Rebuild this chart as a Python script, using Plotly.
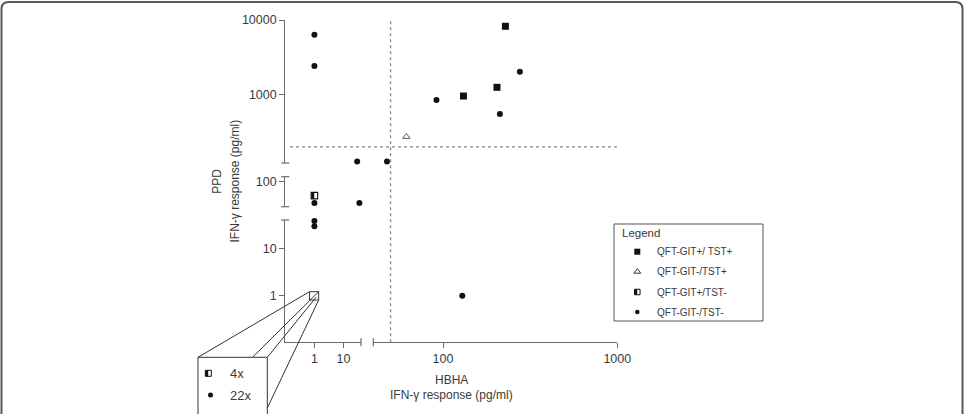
import math
import plotly.graph_objects as go

W, H = 965, 414

# ---------------- data ----------------
categories = ["QFT-GIT+/ TST+", "QFT-GIT-/TST+", "QFT-GIT+/TST-", "QFT-GIT-/TST-"]
# QFT-GIT+/TST+ (filled squares)
sq_x = [131, 204, 228]
sq_y = [960, 1256, 8240]
# QFT-GIT-/TST+ (open triangle)
tri_x = [61.6]
tri_y = [274]
# QFT-GIT+/TST- (half-filled square)
half_x = [1]
half_y = [65]
# QFT-GIT-/TST- (dots)
dot_x = [1, 1, 29.4, 47.7, 91.7, 212, 276, 1, 35, 1, 1, 129]
dot_y = [6350, 2420, 128, 128, 849, 552, 2030, 52, 52, 39, 30, 1]
# points stacked at (1, 1), listed in the zoom inset
stack_x, stack_y = 1, 1
stack_counts = ["4x", "22x"]
hbha_cutoff = 50
ppd_cutoff = 200
x_ticks = [1, 10, 100, 1000]
y_ticks = [1, 10, 100, 1000, 10000]

# ---------------- layout constants (pixels) ----------------
FONT = "Liberation Sans, Arial, sans-serif"
AX = "#6a6a6a"
TXT = "#3a3a3a"
X_SEGS = [("x", (285.3, 361.0), (-1.0, 1.6)), ("x2", (373.3, 617.3), (1.6, 3.0))]
Y_SEGS = [("y", (20.0, 163.0), (2.086, 4.0)),
          ("y2", (176.7, 206.7), (1.665, 2.067)),
          ("y3", (220.0, 342.3), (-0.99, 1.61))]


def pxx(p):
    return p / W


def pxy(p):
    return 1 - p / H


def xseg_of(v):
    lv = math.log10(v)
    for name, _, (r0, r1) in X_SEGS:
        if r0 <= lv <= r1:
            return name
    return X_SEGS[-1][0]


def yseg_of(v):
    lv = math.log10(v)
    for name, _, (r0, r1) in Y_SEGS:
        if r0 <= lv <= r1:
            return name
    return Y_SEGS[-1][0]


def seg(segs, name):
    for n, p, r in segs:
        if n == name:
            return p, r


def data_to_px_x(v, name):
    (p0, p1), (r0, r1) = seg(X_SEGS, name)
    return p0 + (math.log10(v) - r0) / (r1 - r0) * (p1 - p0)


def data_to_px_y(v, name):
    (p0, p1), (r0, r1) = seg(Y_SEGS, name)
    return p1 - (math.log10(v) - r0) / (r1 - r0) * (p1 - p0)


fig = go.Figure()


def add_points(xs, ys, marker, xshift_px=0.0):
    groups = {}
    for xv, yv in zip(xs, ys):
        key = (xseg_of(xv), yseg_of(yv))
        groups.setdefault(key, ([], []))
        (p0, p1), (r0, r1) = seg(X_SEGS, key[0])
        ppd = (p1 - p0) / (r1 - r0)
        groups[key][0].append(xv * 10 ** (xshift_px / ppd))
        groups[key][1].append(yv)
    for (xa, ya), (gx, gy) in groups.items():
        fig.add_trace(go.Scatter(x=gx, y=gy, xaxis=xa, yaxis=ya, mode="markers",
                                 marker=marker, showlegend=False, cliponaxis=False,
                                 hoverinfo="skip"))


M_SQ = dict(symbol="square", size=7, color="#111")
M_TRI = dict(symbol="triangle-up-open", size=6.5, color="#555", line=dict(width=1, color="#555"))
M_HALF_O = dict(symbol="square-open", size=6.5, color="#111", line=dict(width=1.1, color="#111"))
M_HALF_F = dict(symbol="line-ns", size=4.6, color="#111", line=dict(width=3.0, color="#111"))
M_DOT = dict(symbol="circle", size=6, color="#111")

add_points(sq_x, sq_y, M_SQ)
add_points(tri_x, tri_y, M_TRI)
add_points(half_x, half_y, M_HALF_O)
add_points(half_x, half_y, M_HALF_F, xshift_px=-1.7)
add_points(dot_x, dot_y, M_DOT)

# ---------------- axes ----------------
TICKFONT = dict(family=FONT, size=12.5, color=TXT)
layout_axes = {}
for name, (p0, p1), (r0, r1) in X_SEGS:
    tv = [t for t in x_ticks if r0 - 1e-6 <= math.log10(t) <= r1 + 1e-6]
    layout_axes["xaxis" if name == "x" else "xaxis" + name[1:]] = dict(
        type="log", domain=[pxx(p0), pxx(p1)], range=[r0, r1], anchor="y3",
        showline=True, linecolor=AX, linewidth=1.2, ticks="outside", ticklen=5,
        tickwidth=1.1, tickcolor=AX, tickvals=tv, ticktext=[str(t) for t in tv],
        showgrid=False, zeroline=False, fixedrange=True, automargin=False,
        tickfont=TICKFONT)
for name, (p0, p1), (r0, r1) in Y_SEGS:
    tv = [t for t in y_ticks if r0 - 1e-6 <= math.log10(t) <= r1 + 1e-6]
    layout_axes["yaxis" if name == "y" else "yaxis" + name[1:]] = dict(
        type="log", domain=[pxy(p1), pxy(p0)], range=[r0, r1], anchor="x",
        showline=True, linecolor=AX, linewidth=1.2, ticks="outside", ticklen=5,
        tickwidth=1.1, tickcolor=AX, tickvals=tv, ticktext=[str(t) for t in tv],
        showgrid=False, zeroline=False, fixedrange=True, automargin=False,
        tickfont=TICKFONT)
# auxiliary pixel axes for legend / inset glyphs
layout_axes["xaxis3"] = dict(domain=[0, 1], range=[0, W], visible=False, anchor="y4",
                             fixedrange=True, automargin=False)
layout_axes["yaxis4"] = dict(domain=[0, 1], range=[H, 0], visible=False, anchor="x3",
                             fixedrange=True, automargin=False)

shapes = []
annotations = []

# break caps
X_AX_PX = seg(Y_SEGS, "y3")[0][1]
Y_AX_PX = seg(X_SEGS, "x")[0][0]
for py_ in [seg(Y_SEGS, "y")[0][1], seg(Y_SEGS, "y2")[0][0], seg(Y_SEGS, "y2")[0][1], seg(Y_SEGS, "y3")[0][0]]:
    shapes.append(dict(type="line", xref="paper", yref="paper", x0=pxx(Y_AX_PX - 4), x1=pxx(Y_AX_PX + 4),
                       y0=pxy(py_), y1=pxy(py_), line=dict(color=AX, width=1.2)))
for px_ in [seg(X_SEGS, "x")[0][1], seg(X_SEGS, "x2")[0][0]]:
    shapes.append(dict(type="line", xref="paper", yref="paper", x0=pxx(px_), x1=pxx(px_),
                       y0=pxy(X_AX_PX - 4), y1=pxy(X_AX_PX + 4), line=dict(color=AX, width=1.2)))

# cutoff lines
shapes.append(dict(type="line", xref=xseg_of(hbha_cutoff), yref="paper", x0=hbha_cutoff, x1=hbha_cutoff,
                   y0=pxy(X_AX_PX), y1=pxy(seg(Y_SEGS, "y")[0][0]), line=dict(color="#888", width=1.3, dash="dot")))
shapes.append(dict(type="line", xref="paper", yref=yseg_of(ppd_cutoff), x0=pxx(290), x1=pxx(618.3),
                   y0=ppd_cutoff, y1=ppd_cutoff, line=dict(color="#888", width=1.3, dash="dot")))

# zoom box around stacked points
zx0, zx1 = stack_x * 0.68, stack_x * 1.4
zy0, zy1 = stack_y * 0.81, stack_y * 1.22
xa, ya = xseg_of(stack_x), yseg_of(stack_y)
shapes.append(dict(type="rect", xref=xa, yref=ya, x0=zx0, x1=zx1, y0=zy0, y1=zy1,
                   line=dict(color="#333", width=1), fillcolor="white", layer="above"))
TL = (data_to_px_x(zx0, xa), data_to_px_y(zy1, ya))
TR = (data_to_px_x(zx1, xa), data_to_px_y(zy1, ya))
BR = (data_to_px_x(zx1, xa), data_to_px_y(zy0, ya))
INS = (198.0, 357.3, 267.3, 430.0)
for (a, b) in [(TL, (INS[0], INS[1])), (TR, (252.5, INS[1])),
               ((TR[0] - 2.5, TR[1] + 5.5), (INS[2], INS[1])), (BR, (INS[2], 408.0))]:
    shapes.append(dict(type="line", xref="paper", yref="paper", x0=pxx(a[0]), y0=pxy(a[1]),
                       x1=pxx(b[0]), y1=pxy(b[1]), line=dict(color="#333", width=1), layer="above"))
shapes.append(dict(type="rect", xref="paper", yref="paper", x0=pxx(INS[0]), x1=pxx(INS[2]),
                   y0=pxy(INS[3]), y1=pxy(INS[1]), line=dict(color="#333", width=1), fillcolor="white",
                   layer="below"))

# legend box
LEG = (614.0, 224.0, 763.0, 321.0)
shapes.append(dict(type="rect", xref="paper", yref="paper", x0=pxx(LEG[0]), x1=pxx(LEG[2]),
                   y0=pxy(LEG[3]), y1=pxy(LEG[1]), line=dict(color="#555", width=1), fillcolor="white",
                   layer="below"))
annotations.append(dict(text="Legend", xref="paper", yref="paper", x=pxx(620), y=pxy(233.3),
                        xanchor="left", yanchor="middle", showarrow=False,
                        font=dict(family=FONT, size=11.5, color=TXT)))
leg_rows = [251.7, 271.7, 292.0, 312.0]
GX = 637.3
for cat, yy in zip(categories, leg_rows):
    annotations.append(dict(text=cat, xref="paper", yref="paper", x=pxx(655), y=pxy(yy),
                            xanchor="left", yanchor="middle", showarrow=False,
                            font=dict(family=FONT, size=10, color=TXT)))


def glyph(x, y, marker):
    fig.add_trace(go.Scatter(x=[x], y=[y], xaxis="x3", yaxis="y4", mode="markers", marker=marker,
                             showlegend=False, hoverinfo="skip", cliponaxis=False))


glyph(GX, leg_rows[0], dict(symbol="square", size=6, color="#111"))
glyph(GX, leg_rows[1], dict(symbol="triangle-up-open", size=6, color="#333", line=dict(width=1, color="#333")))
glyph(GX, leg_rows[2], dict(symbol="square-open", size=5.5, color="#111", line=dict(width=1, color="#111")))
glyph(GX - 1.4, leg_rows[2], dict(symbol="line-ns", size=3.9, color="#111", line=dict(width=2.6, color="#111")))
glyph(GX, leg_rows[3], dict(symbol="circle", size=4.6, color="#111"))

# inset contents
ins_rows = [373.3, 395.0]
glyph(208.3, ins_rows[0], dict(symbol="square-open", size=6, color="#111", line=dict(width=1, color="#111")))
glyph(208.3 - 1.5, ins_rows[0], dict(symbol="line-ns", size=4.2, color="#111", line=dict(width=2.8, color="#111")))
glyph(210.5, ins_rows[1], dict(symbol="circle", size=5, color="#111"))
for lab, yy in zip(stack_counts, ins_rows):
    annotations.append(dict(text=lab, xref="paper", yref="paper", x=pxx(228), y=pxy(yy),
                            xanchor="left", yanchor="middle", showarrow=False,
                            font=dict(family=FONT, size=13, color=TXT)))

# axis titles
for txt, xx in [("PPD", 216.7), ("IFN-γ response (pg/ml)", 234.5)]:
    annotations.append(dict(text=txt, xref="paper", yref="paper", x=pxx(xx), y=pxy(181),
                            xanchor="center", yanchor="middle", textangle=-90, showarrow=False,
                            font=dict(family=FONT, size=12, color=TXT)))
for txt, yy in [("HBHA", 380.0), ("IFN-γ response (pg/ml)", 395.0)]:
    annotations.append(dict(text=txt, xref="paper", yref="paper", x=pxx(451.5), y=pxy(yy),
                            xanchor="center", yanchor="middle", showarrow=False,
                            font=dict(family=FONT, size=12, color=TXT)))

# outer rounded frame
def fp(x, y):
    return f"{pxx(x):.5f},{pxy(y):.5f}"


frame = (f"M{fp(1.5, 430)} L{fp(1.5, 9)} Q{fp(1.5, 2)} {fp(8.5, 2)} L{fp(955.5, 2)} "
         f"Q{fp(962.5, 2)} {fp(962.5, 9)} L{fp(962.5, 430)}")
shapes.append(dict(type="path", xref="paper", yref="paper", path=frame, line=dict(color="#5a5a5a", width=2)))

fig.update_layout(width=W, height=H, autosize=False,
                  margin=dict(l=0, r=0, t=0, b=0, pad=0, autoexpand=False),
                  paper_bgcolor="white", plot_bgcolor="rgba(0,0,0,0)", showlegend=False,
                  shapes=shapes, annotations=annotations, **layout_axes)

fig.write_html("out.html", config={"displayModeBar": False})
